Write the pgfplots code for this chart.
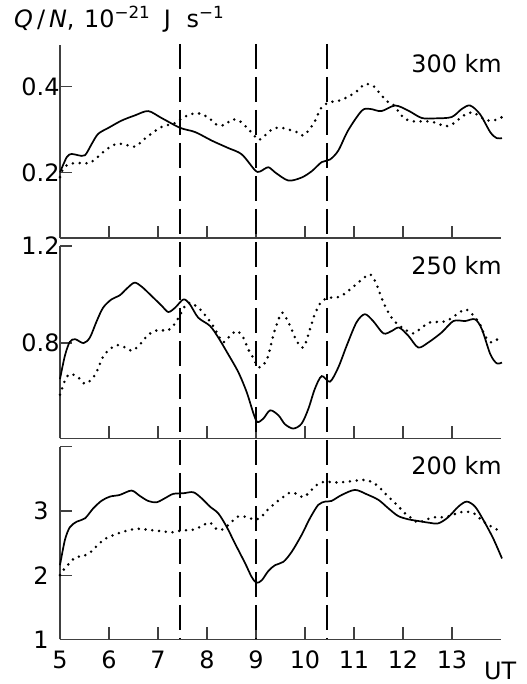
\documentclass[border=0pt]{standalone}
\usepackage{fontspec}
\setmainfont{DejaVu Sans}
\usepackage{pgfplots}
\pgfplotsset{compat=1.18}

\pgfplotsset{
  panel/.style={
    scale only axis, width=441bp, height=192.5bp,
    anchor=south west,
    xmin=5, xmax=14,
    axis x line=bottom, axis y line=left,
    axis line style={-, black!75, line width=1.4bp},
    tick style={black!75, line width=1.2bp},
    tick align=inside, major tick length=12bp,
    xtick={5,...,13}, xticklabels={},
    tick label style={font=\fontsize{24}{28}\selectfont},
    yticklabel style={xshift=3bp},
    xticklabel style={yshift=-8bp},
    clip=false,
  },
  solid curve/.style={black, line width=1.7bp, smooth, tension=0.5, no marks},
  dot curve/.style={black, line width=2.8bp, line cap=round,
    dash pattern=on 0pt off 6.8bp, smooth, tension=0.5, no marks},
  marker/.style={black, line width=1.9bp, dash pattern=on 25bp off 8bp, no marks},
}

\begin{document}
\begin{tikzpicture}
\useasboundingbox (0,0) rectangle (527bp,684bp);

% 300 km
\begin{axis}[panel, at={(60bp,446bp)}, ymin=0.047, ymax=0.496,
  ytick={0.2,0.4}, yticklabels={0.2,0.4}]
\addplot[solid curve] coordinates {
(5,0.20) (5.14,0.236) (5.24,0.243) (5.37,0.24) (5.51,0.24) (5.65,0.267)
(5.78,0.29) (5.99,0.304) (6.26,0.321) (6.53,0.333) (6.80,0.343) (7.07,0.327)
(7.45,0.304) (7.76,0.294) (8.10,0.274) (8.43,0.257) (8.71,0.242) (8.98,0.205)
(9.08,0.202) (9.25,0.212) (9.39,0.20) (9.66,0.181) (9.93,0.188) (10.14,0.203)
(10.34,0.224) (10.51,0.23) (10.68,0.251) (10.88,0.298) (11.16,0.344) (11.33,0.348)
(11.56,0.343) (11.84,0.356) (12.11,0.344) (12.38,0.327) (12.65,0.326) (12.99,0.329)
(13.20,0.348) (13.37,0.356) (13.57,0.336) (13.78,0.294) (13.91,0.28) (14.02,0.28)
};
\addplot[dot curve] coordinates {
(5,0.189) (5.07,0.209) (5.2,0.22) (5.48,0.222) (5.61,0.222) (5.78,0.237)
(5.92,0.251) (6.09,0.264) (6.22,0.267) (6.39,0.263) (6.54,0.26) (6.68,0.274)
(6.84,0.288) (7.01,0.302) (7.14,0.309) (7.31,0.313) (7.45,0.323) (7.60,0.333)
(7.76,0.338) (7.89,0.336) (8.06,0.325) (8.20,0.311) (8.37,0.311) (8.50,0.323)
(8.65,0.321) (8.81,0.305) (8.95,0.288) (9.06,0.276) (9.22,0.29) (9.35,0.302)
(9.52,0.304) (9.69,0.299) (9.83,0.294) (9.97,0.286) (10.10,0.302) (10.2,0.319)
(10.34,0.352) (10.51,0.364) (10.65,0.366) (10.78,0.371) (10.95,0.381) (11.09,0.392)
(11.22,0.406) (11.39,0.402) (11.53,0.384) (11.67,0.366) (11.80,0.358) (11.92,0.340)
(12.04,0.325) (12.21,0.319) (12.38,0.319) (12.52,0.319) (12.69,0.315) (12.82,0.309)
(12.96,0.309) (13.13,0.323) (13.27,0.335) (13.43,0.340) (13.57,0.330) (13.74,0.321)
(13.91,0.323) (14.02,0.329)
};
\end{axis}

% 250 km
\begin{axis}[panel, at={(60bp,245.5bp)}, ymin=0.407, ymax=1.2,
  ytick={0.8,1.2}, yticklabels={0.8,1.2}]
\addplot[solid curve] coordinates {
(5,0.652) (5.10,0.748) (5.2,0.805) (5.31,0.816) (5.48,0.80) (5.61,0.823)
(5.75,0.891) (5.88,0.946) (6.05,0.98) (6.22,0.997) (6.36,1.024) (6.52,1.049)
(6.67,1.032) (6.87,0.994) (7.08,0.953) (7.21,0.928) (7.35,0.946) (7.52,0.98)
(7.65,0.96) (7.82,0.905) (8.06,0.871) (8.23,0.823) (8.43,0.755) (8.64,0.68)
(8.81,0.598) (8.95,0.509) (9.03,0.475) (9.15,0.489) (9.29,0.523) (9.46,0.502)
(9.59,0.466) (9.76,0.448) (9.93,0.468) (10.07,0.53) (10.20,0.611) (10.34,0.664)
(10.51,0.641) (10.68,0.70) (10.85,0.789) (11.05,0.885) (11.22,0.919) (11.39,0.891)
(11.60,0.84) (11.77,0.85) (11.92,0.864) (12.11,0.83) (12.31,0.782) (12.52,0.803)
(12.79,0.844) (13.03,0.891) (13.27,0.891) (13.47,0.898) (13.61,0.857) (13.78,0.755)
(13.91,0.717) (14.02,0.72)
};
\addplot[dot curve] coordinates {
(5,0.587) (5.10,0.645) (5.2,0.673) (5.37,0.659) (5.51,0.632) (5.65,0.652)
(5.75,0.682) (5.88,0.745) (6.02,0.775) (6.16,0.792) (6.33,0.782) (6.46,0.768)
(6.61,0.789) (6.73,0.819) (6.87,0.844) (7.04,0.855) (7.18,0.85) (7.31,0.871)
(7.41,0.901) (7.59,0.964) (7.72,0.96) (7.86,0.939) (7.99,0.908) (8.10,0.878)
(8.20,0.844) (8.33,0.803) (8.47,0.83) (8.61,0.85) (8.74,0.823) (8.84,0.775)
(8.95,0.737) (9.05,0.70) (9.15,0.71) (9.25,0.748) (9.35,0.83) (9.46,0.898)
(9.54,0.925) (9.69,0.874) (9.83,0.809) (9.97,0.782) (10.10,0.857) (10.20,0.919)
(10.34,0.973) (10.51,0.987) (10.71,0.991) (10.92,1.021) (11.12,1.055) (11.33,1.083)
(11.46,1.042) (11.56,0.987) (11.70,0.926) (11.84,0.887) (12.01,0.86) (12.21,0.84)
(12.38,0.864) (12.55,0.885) (12.72,0.887) (12.89,0.891) (13.13,0.923) (13.28,0.939)
(13.43,0.915) (13.57,0.878) (13.67,0.83) (13.80,0.803) (13.93,0.816) (14.02,0.833)
};
\end{axis}

% 200 km
\begin{axis}[panel, at={(60bp,44.7bp)}, ymin=1, ymax=4,
  ytick={1,2,3,4}, yticklabels={1,2,3,},
  yticklabel style={xshift=-11bp},
  xticklabels={5,6,7,8,9,10,11,12,13}]
\addplot[solid curve] coordinates {
(5,2.156) (5.10,2.547) (5.2,2.745) (5.34,2.833) (5.51,2.885) (5.68,3.042)
(5.85,3.16) (6.02,3.224) (6.22,3.25) (6.46,3.318) (6.63,3.234) (6.80,3.156)
(6.97,3.135) (7.14,3.198) (7.31,3.266) (7.52,3.276) (7.72,3.292) (7.89,3.198)
(8.06,3.068) (8.23,2.963) (8.40,2.755) (8.57,2.495) (8.78,2.182) (8.91,1.974)
(9.01,1.88) (9.12,1.922) (9.25,2.063) (9.39,2.156) (9.56,2.208) (9.73,2.365)
(9.93,2.625) (10.10,2.885) (10.27,3.094) (10.41,3.146) (10.54,3.156) (10.75,3.25)
(11.02,3.328) (11.26,3.26) (11.50,3.172) (11.70,3.042) (11.90,2.922) (12.11,2.87)
(12.31,2.844) (12.52,2.818) (12.72,2.807) (12.92,2.901) (13.13,3.068) (13.30,3.146)
(13.47,3.068) (13.64,2.859) (13.84,2.573) (14.02,2.26)
};
\addplot[dot curve] coordinates {
(5,2.0) (5.07,2.08) (5.31,2.277) (5.44,2.287) (5.61,2.349) (5.75,2.453)
(5.90,2.557) (6.06,2.614) (6.22,2.661) (6.36,2.692) (6.53,2.719) (6.68,2.719)
(6.84,2.703) (6.99,2.692) (7.14,2.677) (7.29,2.667) (7.45,2.692) (7.62,2.703)
(7.76,2.714) (7.89,2.766) (8.06,2.818) (8.20,2.714) (8.33,2.714) (8.47,2.807)
(8.63,2.911) (8.78,2.911) (8.95,2.87) (9.08,2.885) (9.22,3.005) (9.39,3.12)
(9.52,3.198) (9.69,3.286) (9.83,3.266) (9.97,3.214) (10.10,3.302) (10.24,3.406)
(10.41,3.458) (10.58,3.443) (10.75,3.448) (10.88,3.458) (11.05,3.474) (11.19,3.484)
(11.35,3.458) (11.50,3.38) (11.63,3.276) (11.77,3.172) (11.91,3.068) (12.04,2.963)
(12.18,2.885) (12.31,2.818) (12.45,2.859) (12.62,2.901) (12.79,2.901) (12.96,2.922)
(13.13,2.974) (13.30,2.99) (13.47,2.953) (13.60,2.859) (13.74,2.781) (13.88,2.729)
(14.02,2.651)
};
% vertical dashed markers running through all three panels
\addplot[marker] coordinates {(7.45,10.28) (7.45,1)};
\addplot[marker] coordinates {(9,10.28) (9,1)};
\addplot[marker] coordinates {(10.45,10.28) (10.45,1)};
\end{axis}

\node[anchor=base west, font=\fontsize{24}{28}\selectfont, inner sep=0pt]
  at (14bp,656bp) {\textit{Q}\,/\,\textit{N}, \hspace{2bp}10\textsuperscript{−21}\hspace{6bp} J\hspace{8bp} s\textsuperscript{−1}};
\node[anchor=base east, font=\fontsize{24}{28}\selectfont, inner sep=0pt]
  at (502bp,611bp) {300 km};
\node[anchor=base east, font=\fontsize{24}{28}\selectfont, inner sep=0pt]
  at (502bp,409bp) {250 km};
\node[anchor=base east, font=\fontsize{24}{28}\selectfont, inner sep=0pt]
  at (502bp,209bp) {200 km};
\node[anchor=base west, font=\fontsize{24}{28}\selectfont, inner sep=0pt]
  at (484bp,5bp) {UT};
\end{tikzpicture}
\end{document}
